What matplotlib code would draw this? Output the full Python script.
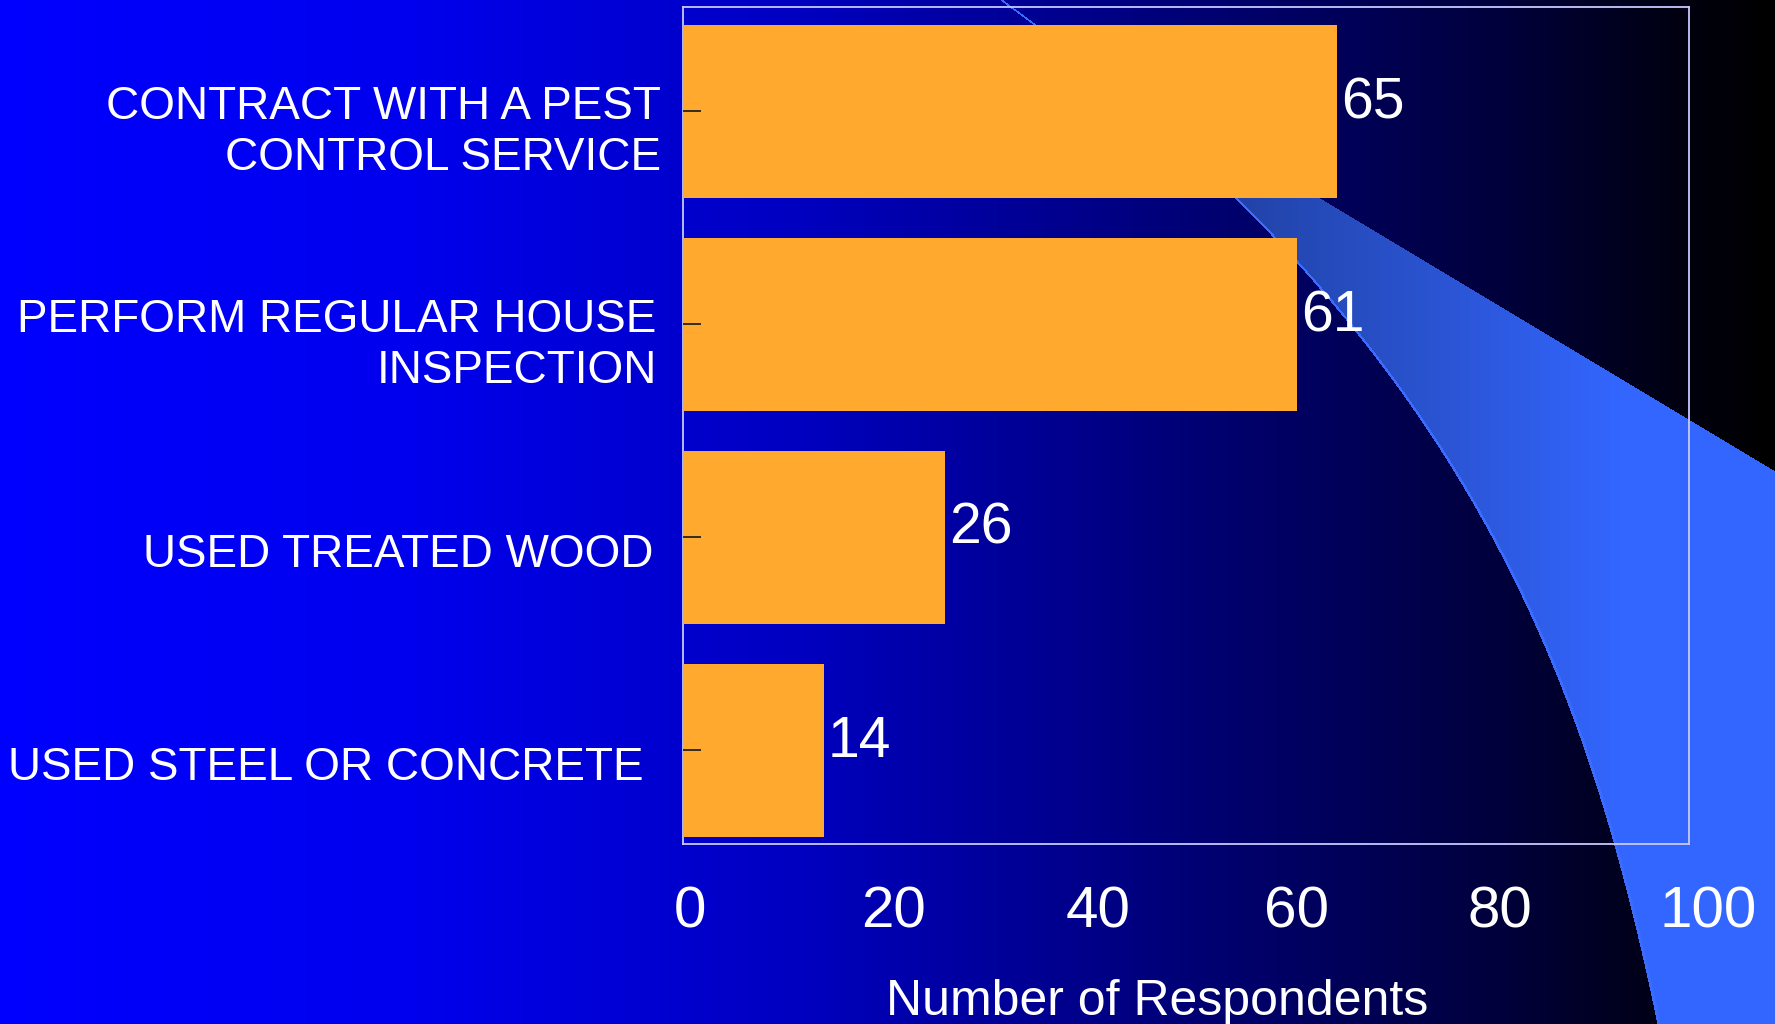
import numpy as np
import matplotlib
matplotlib.use("Agg")
import matplotlib.pyplot as plt
import matplotlib.transforms as mtransforms

plt.rcParams['font.family'] = ['Liberation Sans', 'DejaVu Sans']

# data
categories = ["CONTRACT WITH A PEST\nCONTROL SERVICE",
              "PERFORM REGULAR HOUSE\nINSPECTION",
              "USED TREATED WOOD",
              "USED STEEL OR CONCRETE"]
respondents = [65, 61, 26, 14]
xticks = [0, 20, 40, 60, 80, 100]
xlabel = "Number of Respondents"

W, H = 1775, 1024
fig = plt.figure(figsize=(W / 100, H / 100), dpi=100)
fig.patch.set_facecolor("black")

# ---- background: blue -> black gradient with a light blue swoosh ----
xx = np.arange(W)
yy = np.arange(H)
X, Y = np.meshgrid(xx, yy)

blue = np.interp(xx, [0, 400, 800, 1200, 1500, 1700, 1775],
                 [255, 238, 192, 115, 60, 12, 0]) / 255.0
bg = np.zeros((H, W, 3))
bg[:, :, 2] = blue[None, :]

# swoosh left edge (curve) and upper edge (straight)
k = 1775 / 1568
edge_y = np.array([0, 175, 290, 400, 520, 640, 746, 905]) * k
edge_x = np.array([880, 1100, 1195, 1268, 1335, 1392, 1435, 1460]) * k
coef = np.polyfit(edge_y, edge_x, 3)
xe = np.polyval(coef, yy)[:, None]
inside = (X > xe) & (Y > 0.6 * X - 594)

sw_x = [1000, 1250, 1450, 1620, 1775]
sw_r = np.interp(xx, sw_x, [0x1c, 0x22, 0x2b, 0x33, 0x33]) / 255.0
sw_g = np.interp(xx, sw_x, [0x38, 0x44, 0x55, 0x66, 0x66]) / 255.0
sw_b = np.interp(xx, sw_x, [0x98, 0xaa, 0xd5, 0xff, 0xff]) / 255.0
sw = np.stack([np.broadcast_to(sw_r, (H, W)),
               np.broadcast_to(sw_g, (H, W)),
               np.broadcast_to(sw_b, (H, W))], axis=2)
bg[inside] = sw[inside]

hl = (X >= xe) & (X < xe + 3)
bg[hl] = [0x3a / 255, 0x6c / 255, 1.0]

bax = fig.add_axes([0, 0, 1, 1], zorder=-1)
bax.imshow(bg, extent=(0, W, H, 0), aspect="auto", interpolation="nearest")
bax.set_xlim(0, W)
bax.set_ylim(H, 0)
bax.axis("off")

# ---- bar chart ----
ax = fig.add_axes([683 / W, 1 - 844 / H, (1689 - 683) / W, (844 - 7) / H])
ax.set_facecolor("none")

ypos = np.arange(len(categories))
ax.barh(ypos, respondents, height=0.81, color="#FFAA2F", zorder=1)

for y, v in zip(ypos, respondents):
    ax.annotate(str(v), (v, y), xytext=(3, 6), textcoords="offset points",
                ha="left", va="center", color="white", fontsize=41)

ax.set_xlim(0, 100)
ax.set_ylim(3.44, -0.49)
ax.set_xticks(xticks)
ax.set_xticklabels([str(t) for t in xticks])
ax.set_yticks(ypos)
ax.set_yticklabels(categories, fontsize=33, color="white", linespacing=1.2)

ax.tick_params(axis="x", length=0, pad=30, labelsize=42, labelcolor="white")
ax.tick_params(axis="y", direction="in", length=13, width=1.3,
               color="#222222", pad=16)

for sp in ax.spines.values():
    sp.set_color("#c8c8ff")
    sp.set_linewidth(1.3)
ax.spines["left"].set_zorder(0.5)

# small per-label nudges seen on the slide
x_shift = [7, 9, 13, 10, 12, 19]
for lab, s in zip(ax.get_xticklabels(), x_shift):
    lab.set_transform(lab.get_transform() +
                      mtransforms.ScaledTranslation(s / 100, 0, fig.dpi_scale_trans))
y_shift = [0, -4, -7, -17]
for lab, s in zip(ax.get_yticklabels(), y_shift):
    lab.set_transform(lab.get_transform() +
                      mtransforms.ScaledTranslation(s / 100, -13 / 100, fig.dpi_scale_trans))
    lab.set_multialignment("right")

fig.text(1157 / W, 1 - 1015 / H, xlabel, ha="center", va="baseline",
         color="white", fontsize=36)

fig.savefig("out.png", dpi=100)
